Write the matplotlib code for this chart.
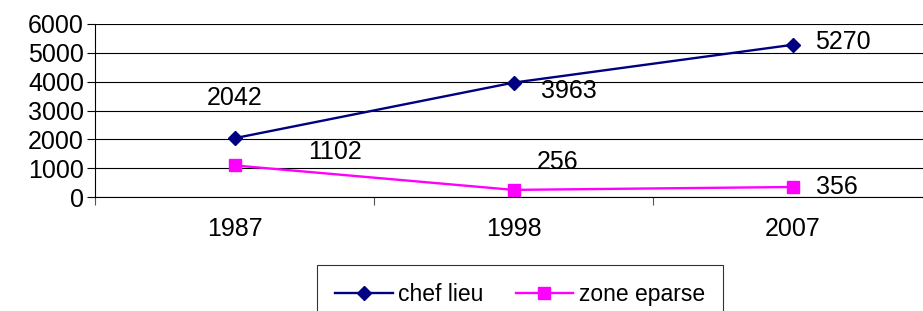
import matplotlib
matplotlib.use("Agg")
import matplotlib.pyplot as plt

# donnees
annees = ["1987", "1998", "2007"]
chef_lieu = [2042, 3963, 5270]
zone_eparse = [1102, 256, 356]

plt.rcParams["font.family"] = ["Liberation Sans", "DejaVu Sans"]

fig = plt.figure(figsize=(9.23, 3.11), dpi=100)
ax = fig.add_axes([95 / 923, 113.7 / 311, 837 / 923, 173.6 / 311])

x = list(range(len(annees)))
ax.plot(x, chef_lieu, color="#000080", lw=1.7, marker="D", ms=7, label="chef lieu")
ax.plot(x, zone_eparse, color="#FF00FF", lw=1.7, marker="s", ms=8, label="zone eparse")

# etiquettes (decalages en points)
off_chef = [(0, 29), (40, -6), (36, 2)]
off_zone = [(72, 10), (32, 20), (32, 0)]
for i, v in enumerate(chef_lieu):
    ax.annotate(str(v), (x[i], v), xytext=off_chef[i], textcoords="offset points",
                ha="center", va="center", fontsize=18)
for i, v in enumerate(zone_eparse):
    ax.annotate(str(v), (x[i], v), xytext=off_zone[i], textcoords="offset points",
                ha="center", va="center", fontsize=18)

ax.set_xlim(-0.5, 2.5)
ax.set_ylim(0, 6000)
ax.set_yticks(range(0, 6001, 1000))
ax.tick_params(axis="y", labelsize=18, length=6, width=0.8, pad=2)
ax.set_xticks(x)
ax.set_xticklabels(annees)
ax.set_xticks([-0.5, 0.5, 1.5, 2.5], minor=True)
ax.tick_params(axis="x", which="major", length=0, labelsize=18, pad=14)
ax.tick_params(axis="x", which="minor", length=6, width=0.8, color="#555555")
ax.grid(axis="y", color="black", lw=0.8)
ax.set_axisbelow(True)
for s in ["top", "right"]:
    ax.spines[s].set_visible(False)
ax.spines["left"].set_linewidth(0.8)
ax.spines["bottom"].set_linewidth(0.8)

leg = fig.legend(loc="upper left", bbox_to_anchor=(317 / 923, 1 - 265 / 311), ncol=2,
                 fontsize=16.5, frameon=True, fancybox=False, edgecolor="black",
                 borderpad=0.8, handlelength=2.5, handletextpad=0.25, columnspacing=1.4,
                 borderaxespad=0)
leg.get_frame().set_linewidth(0.8)

fig.savefig("out.png", dpi=100)
